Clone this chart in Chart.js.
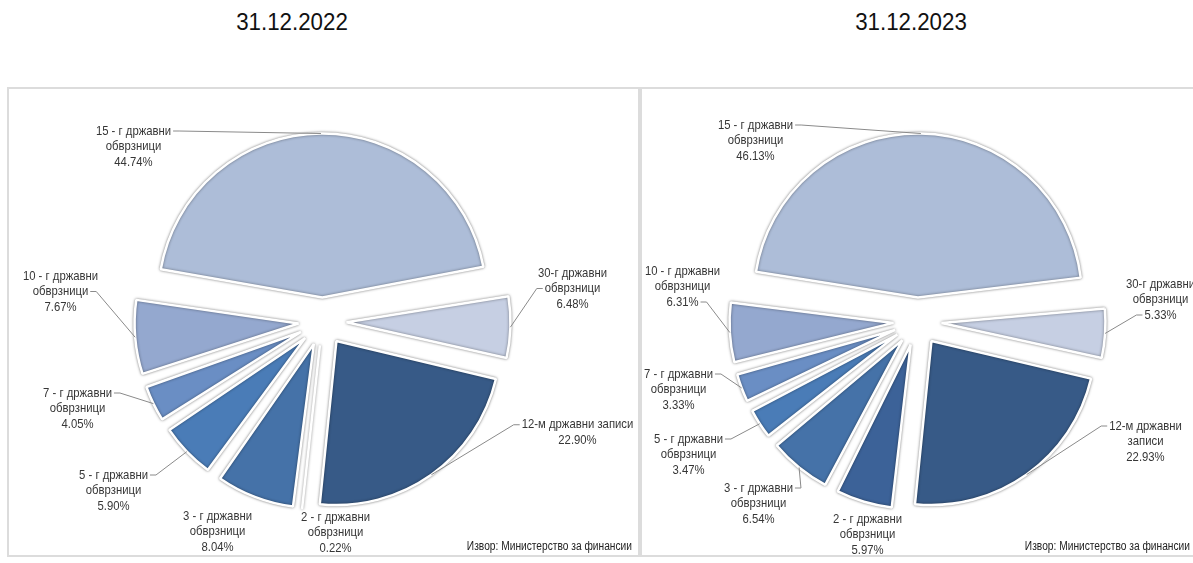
<!DOCTYPE html>
<html lang="mk">
<head>
<meta charset="UTF-8" />
<title>Структура на државните хартии од вредност</title>
<script src="https://cdn.jsdelivr.net/npm/chart.js"></script>
<style>
  body {
    margin: 0;
    background: #fff;
    font-family: "Liberation Sans", Arial, sans-serif;
  }
  .title {
    position: absolute;
    top: 8px;
    width: 300px;
    text-align: center;
    font-size: 24px;
    color: #111;
    transform: scaleX(0.93);
  }
  .panel {
    position: absolute;
    top: 87px;
    height: 470px;
    border: 2px solid #dcdcdc;
    box-sizing: border-box;
  }
  canvas { position: absolute; }
</style>
</head>
<body>

<div class="title" style="left:142px">31.12.2022</div>
<div class="title" style="left:761px">31.12.2023</div>

<div class="panel" style="left:7px; width:633px"></div>
<div class="panel" style="left:640px; width:570px"></div>

<canvas id="pie2022" width="629" height="467" style="left:8px; top:88px"></canvas>
<canvas id="pie2023" width="551" height="467" style="left:642px; top:88px"></canvas>

<script>
  // Категории (по редослед на исечоците, во насока на стрелките на часовникот)
  const categories = [
    '15 - г државни обврзници',
    '30-г државни обврзници',
    '12-м државни записи',
    '2 - г државни обврзници',
    '3 - г државни обврзници',
    '5 - г државни обврзници',
    '7 - г државни обврзници',
    '10 - г државни обврзници'
  ];

  // Учество во вкупниот долг (%)
  const share2022 = [44.74, 6.48, 22.90, 0.22, 8.04, 5.90, 4.05, 7.67];
  const share2023 = [46.13, 5.33, 22.93, 5.97, 6.54, 3.47, 3.33, 6.31];

  // Редови на текстот во ознаките
  const lines2022 = [
    ['15 - г државни', 'обврзници'],
    ['30-г државни', 'обврзници'],
    ['12-м државни записи'],
    ['2 - г државни', 'обврзници'],
    ['3 - г државни', 'обврзници'],
    ['5 - г државни', 'обврзници'],
    ['7 - г државни', 'обврзници'],
    ['10 - г државни', 'обврзници']
  ];
  const lines2023 = [
    ['15 - г државни', 'обврзници'],
    ['30-г државни', 'обврзници'],
    ['12-м државни', 'записи'],
    ['2 - г државни', 'обврзници'],
    ['3 - г државни', 'обврзници'],
    ['5 - г државни', 'обврзници'],
    ['7 - г државни', 'обврзници'],
    ['10 - г државни', 'обврзници']
  ];

  const colors = ['#adbdd8', '#c6cfe3', '#375a87', '#3c6298', '#4572a8', '#4a7cb7', '#6a8ec4', '#94a8cf'];

  // Положба на ознаките во однос на центарот: [dx, dy, ред од кој тргнува линијата (-1 = без линија)]
  const place2022 = [[-189, -175, 0], [250, -33, 1], [255, 111, 0], [13, 211, -1],
                     [-105, 210, -1], [-209, 169, 0], [-245, 87, 0], [-262, -30, 1]];
  const place2023 = [[-162, -181, 0], [243, -22, 2], [228, 120, 0], [-50, 213, -1],
                     [-159, 182, 0], [-229, 133, 0], [-239, 68, 0], [-235, -35, 2]];

  const explode = 24;   // растојание на исечоците од центарот
  const narrow = 0.87;  // тесен фонт (Arial Narrow) преку хоризонтално збивање

  function narrowText(ctx, t, x, y, sx) {
    ctx.save();
    ctx.translate(x, y);
    ctx.scale(sx, 1);
    ctx.fillText(t, 0, 0);
    ctx.restore();
  }

  // Chart.js го зголемува радиусот на тесните исечоци при offset; го враќаме на вистинскиот
  const fixedRadius = {
    id: 'fixedRadius',
    beforeDatasetsDraw(chart) {
      chart.getDatasetMeta(0).data.forEach(arc => {
        const fix = 1 - Math.sin(Math.min(Math.PI, arc.circumference));
        arc._r = arc.outerRadius;
        arc.outerRadius = arc._r - explode * fix;
      });
      const ctx = chart.ctx;
      ctx.save();
      ctx.shadowColor = 'rgba(0,0,0,0.45)';
      ctx.shadowBlur = 3;
    },
    afterDatasetsDraw(chart) {
      chart.ctx.restore();
      chart.getDatasetMeta(0).data.forEach(arc => { arc.outerRadius = arc._r; });
    }
  };

  // ознаки со линии кон исечоците + извор
  const sliceLabels = {
    id: 'sliceLabels',
    afterDraw(chart, args, opts) {
      const ctx = chart.ctx;
      const ds = chart.data.datasets[0];
      const meta = chart.getDatasetMeta(0);
      const lh = 15.5;
      ctx.save();
      ctx.font = '13px "Liberation Sans", Arial, sans-serif';
      ctx.fillStyle = '#363636';
      ctx.textAlign = 'center';
      ctx.textBaseline = 'middle';
      meta.data.forEach((arc, i) => {
        const p = arc.getProps(['x', 'y', 'startAngle', 'endAngle', 'outerRadius'], true);
        const mid = (p.startAngle + p.endAngle) / 2;
        const ax = p.x + Math.cos(mid) * (p.outerRadius + explode);
        const ay = p.y + Math.sin(mid) * (p.outerRadius + explode);
        const [dx, dy, li] = opts.places[i];
        const txt = opts.lines[i].concat([ds.data[i].toFixed(2) + '%']);
        const cx = p.x + dx, cy = p.y + dy;
        txt.forEach((t, k) => {
          narrowText(ctx, t, cx, cy + (k - (txt.length - 1) / 2) * lh, narrow);
        });
        if (li >= 0) {
          const w = ctx.measureText(txt[li]).width * narrow;
          const ly = cy + (li - (txt.length - 1) / 2) * lh;
          const dir = ax > cx ? 1 : -1;
          const sx = cx + dir * (w / 2 + 2);
          ctx.beginPath();
          ctx.strokeStyle = '#8a8a8a';
          ctx.lineWidth = 1;
          ctx.moveTo(sx, ly);
          ctx.lineTo(sx + dir * 6, ly);
          ctx.lineTo(ax, ay);
          ctx.stroke();
        }
      });
      ctx.font = '12px "Liberation Sans", Arial, sans-serif';
      ctx.textAlign = 'right';
      ctx.textBaseline = 'alphabetic';
      ctx.fillStyle = '#222';
      narrowText(ctx, 'Извор: Министерство за финансии', opts.sourceX, 462, 0.85);
      ctx.restore();
    }
  };

  function drawPie(id, values, lines, places, rotation, sourceX) {
    new Chart(document.getElementById(id), {
      type: 'pie',
      data: {
        labels: categories,
        datasets: [{
          data: values,
          backgroundColor: colors,
          borderColor: '#ffffff',
          borderWidth: 2.5,
          offset: explode * 4
        }]
      },
      options: {
        responsive: false,
        animation: false,
        radius: 164,
        rotation: rotation,
        plugins: {
          legend: { display: false },
          tooltip: { enabled: false },
          sliceLabels: { lines: lines, places: places, sourceX: sourceX }
        }
      },
      plugins: [fixedRadius, sliceLabels]
    });
  }

  drawPie('pie2022', share2022, lines2022, place2022, -81, 624);
  drawPie('pie2023', share2023, lines2023, place2023, -82, 548);
</script>
</body>
</html>
